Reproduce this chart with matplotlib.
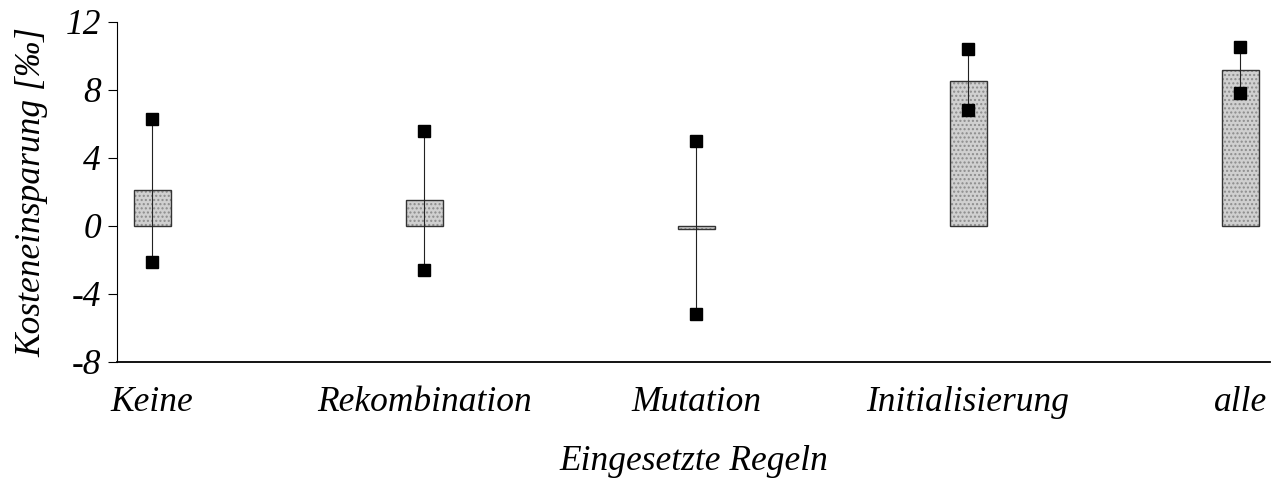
import numpy as np
import matplotlib
matplotlib.use("Agg")
import matplotlib.pyplot as plt

plt.rcParams['font.family'] = ['Liberation Serif', 'DejaVu Serif']
plt.rcParams['font.style'] = 'italic'

# Eingesetzte Regeln und gemessene Kosteneinsparung [promille]
regeln = ["Keine", "Rekombination", "Mutation", "Initialisierung", "alle"]
mittel = [2.1, 1.5, -0.2, 8.5, 9.2]
oben = [6.3, 5.6, 5.0, 10.4, 10.5]
unten = [-2.1, -2.6, -5.2, 6.8, 7.8]
y_ticks = [-8, -4, 0, 4, 8, 12]

x = np.arange(len(regeln))

fig = plt.figure(figsize=(12.76, 4.82), dpi=100)
ax = fig.add_axes([0.0917, 0.249, 0.9036, 0.7054])

# stippled fill first, then a dark outline on top
ax.bar(x, mittel, width=0.136, color='#d0d0d0', edgecolor='#8c8c8c',
       linewidth=0, hatch='....', zorder=2)
ax.bar(x, mittel, width=0.136, fill=False, edgecolor='#333333',
       linewidth=1.0, zorder=2)

for xi, lo, hi in zip(x, unten, oben):
    ax.plot([xi, xi], [lo, hi], color='#222222', linewidth=0.8, zorder=3)
ax.plot(x, oben, 's', color='black', markersize=8, zorder=4)
ax.plot(x, unten, 's', color='black', markersize=8, zorder=4)

ax.set_xlim(-0.129, 4.11)
ax.set_ylim(-8, 12)
ax.set_yticks(y_ticks)
ax.set_yticklabels([str(v) for v in y_ticks])
ax.set_xticks(x)
ax.set_xticklabels(regeln)

ax.spines['top'].set_visible(False)
ax.spines['right'].set_visible(False)
ax.spines['left'].set_linewidth(0.8)
ax.spines['bottom'].set_linewidth(1.3)
ax.tick_params(axis='y', direction='out', length=6.5, width=0.8,
               pad=5, labelsize=25.5)
ax.tick_params(axis='x', length=0, pad=17, labelsize=25.5)

ax.set_ylabel("Kosteneinsparung [‰]", fontsize=25.5, labelpad=12)
ax.set_xlabel("Eingesetzte Regeln", fontsize=25.5, labelpad=19)

plt.savefig('out.png', dpi=100)
